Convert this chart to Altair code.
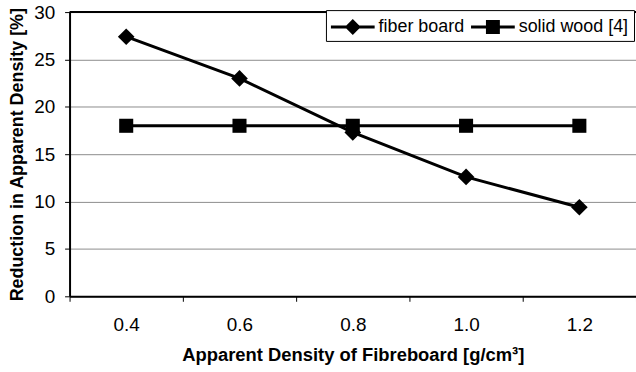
import altair as alt
import pandas as pd

density = ["0.4", "0.6", "0.8", "1.0", "1.2"]
fiber_board = [27.4, 23.0, 17.3, 12.6, 9.4]
solid_wood = [18.0, 18.0, 18.0, 18.0, 18.0]
series_names = ["fiber board", "solid wood [4]"]
y_ticks = [0, 5, 10, 15, 20, 25, 30]

rows = []
for d, v in zip(density, fiber_board):
    rows.append({"density": d, "value": v, "series": series_names[0]})
for d, v in zip(density, solid_wood):
    rows.append({"density": d, "value": v, "series": series_names[1]})
df = pd.DataFrame(rows)

FONT = "Liberation Sans"

x_enc = alt.X(
    "density:N",
    sort=density,
    bandPosition=0.5,
    scale=alt.Scale(type="band", paddingInner=0, paddingOuter=0),
    axis=alt.Axis(
        title="Apparent Density of Fibreboard [g/cm³]",
        tickBand="extent",
        grid=False,
        labelAngle=0,
        labelFontSize=19,
        labelPadding=14,
        titleFontSize=18.5,
        titleFontWeight="bold",
        titlePadding=12,
        domainColor="black",
        domainWidth=2,
        tickColor="black",
        tickSize=5,
        tickWidth=1,
    ),
)
y_enc = alt.Y(
    "value:Q",
    scale=alt.Scale(domain=[0, 30], nice=False, zero=True),
    axis=alt.Axis(
        title="Reduction in Apparent Density [%]",
        values=y_ticks,
        labelFontSize=19,
        labelPadding=10,
        titleFontSize=18,
        titleFontWeight="bold",
        titlePadding=7,
        grid=True,
        gridColor="#8c8c8c",
        gridWidth=1,
        domainColor="black",
        domainWidth=2,
        tickColor="black",
        tickSize=5,
    ),
)

base = alt.Chart(df)

lines = base.mark_line(color="black", strokeWidth=3).encode(
    x=x_enc, y=y_enc, detail="series:N"
)

points = base.mark_point(filled=True, color="black", opacity=1).encode(
    x=x_enc,
    y=y_enc,
    shape=alt.Shape(
        "series:N",
        scale=alt.Scale(domain=series_names, range=["diamond", "square"]),
        legend=None,
    ),
    size=alt.Size(
        "series:N",
        scale=alt.Scale(domain=series_names, range=[280, 200]),
        legend=None,
    ),
)

# legend symbols: a short line with the marker on it (units of 12 px)
diamond_path = ("M-1,-0.125L2.667,-0.125L2.667,0.125L-1,0.125Z "
                "M0.833,-0.667L1.5,0L0.833,0.667L0.167,0Z")
square_path = ("M-1,-0.125L2.667,-0.125L2.667,0.125L-1,0.125Z "
               "M0.25,-0.583L1.417,-0.583L1.417,0.583L0.25,0.583Z")

legend_layer = base.transform_filter(alt.datum.value < -1000).mark_point(
    filled=True, color="black", opacity=1
).encode(
    x=x_enc,
    y=y_enc,
    shape=alt.Shape(
        "series:N",
        scale=alt.Scale(domain=series_names, range=[diamond_path, square_path]),
        legend=alt.Legend(
            title=None,
            orient="none",
            legendX=258,
            legendY=-2,
            direction="horizontal",
            strokeColor="black",
            fillColor="white",
            padding=5,
            labelFont=FONT,
            labelFontSize=18,
            labelColor="black",
            labelOffset=24,
            columnPadding=6,
            symbolSize=576,
            symbolFillColor="black",
            symbolStrokeWidth=0,
            symbolOpacity=1,
        ),
    ),
)

top_rule = alt.Chart(pd.DataFrame({"v": [30]})).mark_rule(
    color="black", strokeWidth=2
).encode(y=alt.Y("v:Q", scale=alt.Scale(domain=[0, 30])))

chart = (
    alt.layer(top_rule, lines, points, legend_layer)
    .resolve_scale(shape="independent")
    .properties(
        width=570,
        height=286,
        autosize=alt.AutoSizeParams(type="none"),
        padding={"left": 70, "top": 11, "right": 0, "bottom": 75},
        background="white",
    )
    .configure_view(stroke=None)
    .configure_axis(labelFont=FONT, titleFont=FONT, labelColor="black", titleColor="black")
)

chart.save("out.html", embed_options={"renderer": "svg", "actions": False})
